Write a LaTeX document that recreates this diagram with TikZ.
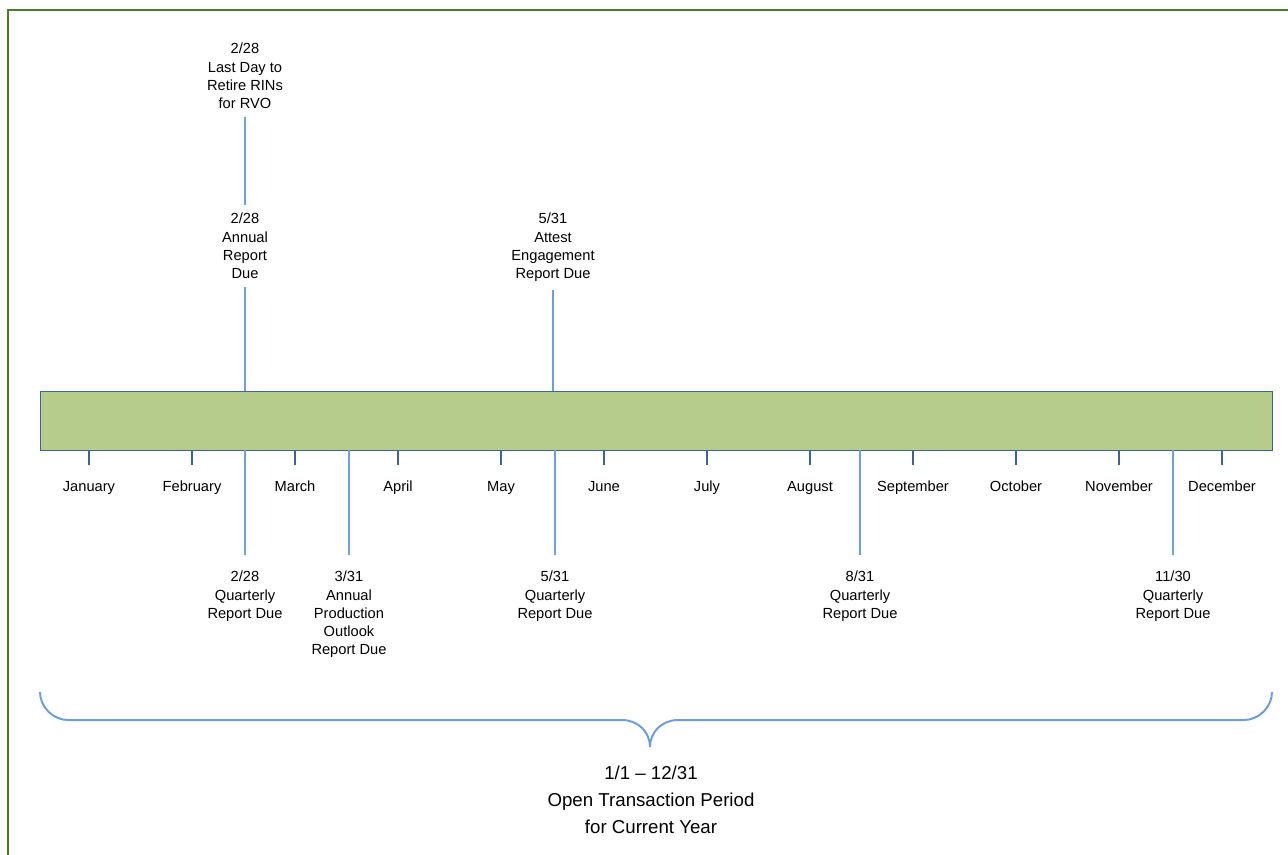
\documentclass[tikz,border=0pt]{standalone}
\usepackage{fontspec}
\setmainfont{Liberation Sans}
\usetikzlibrary{positioning}
\definecolor{framegreen}{HTML}{4F7A28}
\definecolor{barblue}{HTML}{3E6397}
\definecolor{linkblue}{HTML}{6F9ED9}
\definecolor{baredge}{HTML}{B6CC8D}
\definecolor{barmid}{HTML}{C7DAA2}

\begin{document}
\begin{tikzpicture}
    [
      x=0.75pt, y=-0.75pt,
      every node/.style = {align=center, inner sep=2pt, font=\fontsize{11}{13.7}\selectfont},
      above label/.style = {anchor=south, inner ysep=6pt},
      below label/.style = {anchor=north, inner ysep=12pt},
      event/.style = {draw=linkblue, line width=1.5pt},
      tick/.style = {draw=barblue, line width=0.8pt}
    ]
    \useasboundingbox (0,0) rectangle (1288,854);
    \clip (0,0) rectangle (1288,854);
    \draw[framegreen, line width=1.5pt] (8,10) rectangle (1300,870);

    % the year bar
    \node[draw=barblue, line width=0.75pt, outer sep=0pt,
          minimum width=924pt, minimum height=44.25pt,
          left color=baredge, middle color=barmid, right color=baredge]
      (bar) at (656,420.5) {};

    \foreach \m [count=\i from 0] in {January, February, March, April, May, June,
        July, August, September, October, November, December}
    {
      \node[anchor=base] (m\i) at ({89+103*\i},491) {\m};
      \draw[tick] (bar.south -| m\i) -- ++(0,15);
    }

    % deadlines above the bar
    \node[above label] (rins) at (245,117) {2/28\\Last Day to\\Retire RINs\\for RVO};
    \node[above label] (annrep) at (245,287) {2/28\\Annual\\Report\\Due};
    \node[above label] (attest) at (553,290) {5/31\\Attest\\Engagement\\Report Due};
    \draw[event] (rins.south) -- (annrep.north);
    \draw[event] (annrep.south) -- (bar.north -| annrep.south);
    \draw[event] (attest.south) -- (bar.north -| attest.south);

    % deadlines below the bar
    \node[below label] (qtr1) at (245,555) {2/28\\Quarterly\\Report Due};
    \node[below label] (apo) at (349,555) {3/31\\Annual\\Production\\Outlook\\Report Due};
    \node[below label] (qtr2) at (555,555) {5/31\\Quarterly\\Report Due};
    \node[below label] (qtr3) at (860,555) {8/31\\Quarterly\\Report Due};
    \node[below label] (qtr4) at (1173,555) {11/30\\Quarterly\\Report Due};
    \foreach \q in {qtr1, apo, qtr2, qtr3, qtr4}
      \draw[event] (bar.south -| \q.north) -- (\q.north);

    % the whole year
    \coordinate (bl) at (40,692);
    \coordinate (br) at (1272,692);
    \coordinate (tip) at (650,747);
    \draw[linkblue, line width=1.5pt]
      (bl) .. controls (40,707) and (53,720) .. (68,720) -- (622,720)
           .. controls (638,720) and (650,732) .. (tip)
           .. controls (650,732) and (662,720) .. (678,720) -- (1244,720)
           .. controls (1259,720) and (1272,707) .. (br);
    \node[font=\fontsize{14}{20.3}\selectfont] (period) at (651,800)
      {1/1 -- 12/31\\Open Transaction Period\\for Current Year};
  \end{tikzpicture}
\end{document}
